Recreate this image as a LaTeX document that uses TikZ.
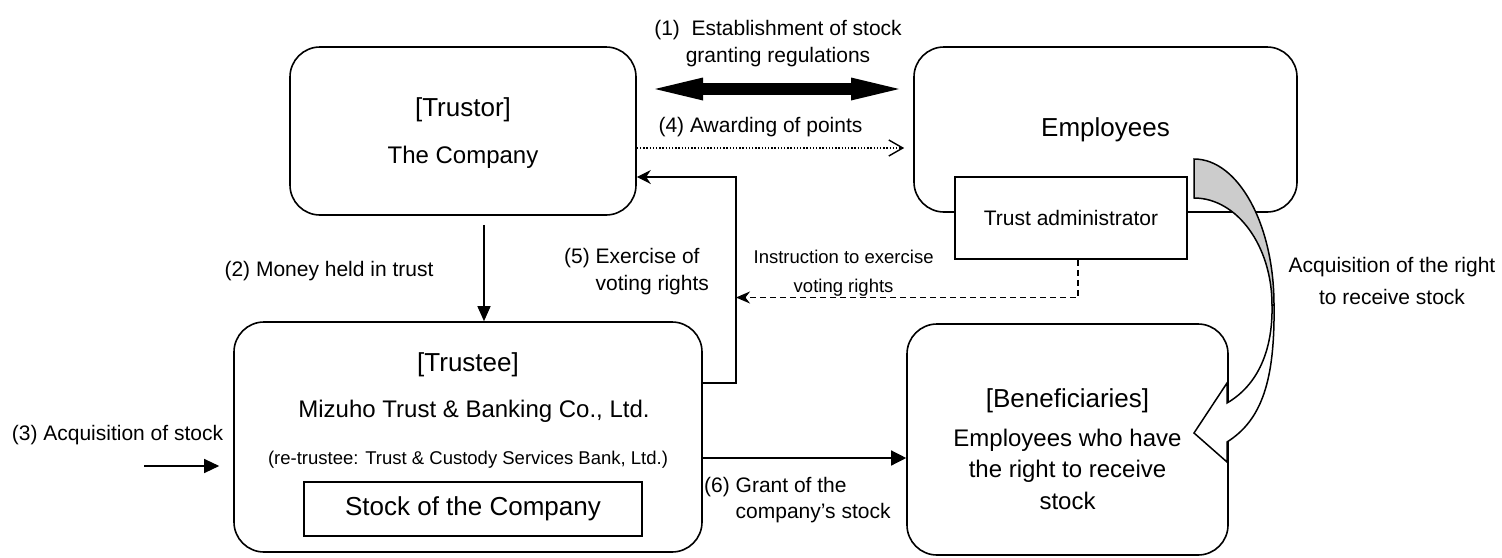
\documentclass[tikz,border=0pt]{standalone}
\usepackage{fontspec}
\setmainfont{Liberation Sans}
\usetikzlibrary{arrows.meta}
\begin{document}
\begin{tikzpicture}[x=1pt,y=-1pt,
  box/.style={draw, line width=1.6pt, rounded corners=30pt, inner sep=0pt},
  sqbox/.style={draw, line width=1.6pt, fill=white, inner sep=0pt},
  conn/.style={line width=1.3pt},
  blk/.style={line width=1.5pt, line join=miter},
  lbl/.style={inner sep=0pt, anchor=base},
  lblw/.style={inner sep=0pt, anchor=base west, align=left},
  fa/.style={font=\fontsize{26}{31}\selectfont},
  fb/.style={font=\fontsize{24}{31.5}\selectfont},
  fc/.style={font=\fontsize{21}{27}\selectfont},
  fd/.style={font=\fontsize{18.5}{29}\selectfont},
  tri/.style={-{Triangle[length=15pt,width=14pt]}},
  stl/.style={-{Stealth[length=14pt,width=14pt]}}
]
\useasboundingbox (0,0) rectangle (1502,557);

% boxes
\node[box, minimum width=346pt, minimum height=168pt] (trustor) at (463,131) {};
\node[box, minimum width=383pt, minimum height=165pt, fa] (employees) at (1105.5,129.5) {Employees};
\node[sqbox, minimum width=232pt, minimum height=82pt, fc] (admin) at (1071,218) {Trust administrator};
\node[box, minimum width=468pt, minimum height=230pt] (trustee) at (468,437) {};
\node[sqbox, minimum width=338pt, minimum height=54pt, fa] (stock) at (473,509) {Stock of the Company};
\node[box, minimum width=321pt, minimum height=231pt] (benef) at (1067.5,439.5) {};

% box texts
\node[lbl, fa] (tTrustor) at (463,116) {[Trustor]};
\node[lbl, fb] (tCompany) at (463,163) {The Company};
\node[lbl, fa] (tTrustee) at (468,371) {[Trustee]};
\node[lbl, fb] (tMizuho) at (474,417) {Mizuho Trust \& Banking Co., Ltd.};
\node[lbl, fd] (tRe) at (468,464) {(re-trustee: Trust \& Custody Services Bank, Ltd.)};
\node[lbl, fa] (tBenef) at (1067.5,407) {[Beneficiaries]};
\node[lbl, fb, align=center] (tBenef2) at (1067.5,509) {Employees who have\\the right to receive\\stock};

% (1) double arrow
\coordinate (d1) at (655,89);
\coordinate (d2) at (899,89);
\draw[line width=12pt, {Triangle[length=48pt,width=23pt,line width=0pt]}-{Triangle[length=48pt,width=23pt,line width=0pt]}] (d1) -- (d2);

% (4) dotted
\draw[line width=1.4pt, dash pattern=on 1.4pt off 1.8pt, -{Straight Barb[length=14pt,width=16pt]}, shorten >=9pt]
  (trustor.east |- 0,148) -- (employees.west |- 0,148);

% (2)
\draw[conn, -{Triangle[length=15pt,width=13pt]}] ([xshift=21pt,yshift=-9pt]trustor.south) -- ([xshift=16pt]trustee.north);

% (3)
\coordinate (c3) at (144,466);
\draw[conn, tri, shorten >=14pt] (c3) -- (c3 -| trustee.west);

% (5)
\coordinate (k5) at (736,177);
\draw[conn, stl] (trustee.east |- 0,383) -| (k5) -- (k5 -| trustor.east);

% instruction (dashed)
\draw[conn, dash pattern=on 6pt off 4pt, -{Stealth[length=14pt,width=12pt]}] ([xshift=7pt]admin.south) |- (k5 |- 0,297.5);

% (6)
\draw[conn, -{Triangle[length=15pt,width=15pt]}] (trustee.east |- 0,458) -- (benef.west |- 0,458);

% curved block arrow
\draw[blk, fill=black!20] (1194,159) .. controls (1238,159) and (1274,224) .. (1274,305)
  -- (1272,305) .. controls (1272,246) and (1237,198) .. (1194,198) -- cycle;
\draw[blk, fill=white] (1274,305) .. controls (1275,380) and (1262,420) .. (1227,442)
  -- (1227,462) -- (1194,433) -- (1227,383) -- (1227,403)
  .. controls (1258,385) and (1273,350) .. (1272,305) -- cycle;

% labels
\node[lbl, fc, align=center] (l1) at (778,62) {(1)~ Establishment of stock\\granting regulations};
\node[lbl, fc] (l4) at (760.5,132) {(4) Awarding of points};
\node[lbl, fc] (l2) at (329,276) {(2) Money held in trust};
\node[lbl, fc] (l3) at (117.5,440) {(3) Acquisition of stock};
\node[lblw, font=\fontsize{21}{27.5}\selectfont] (l5) at (564,290.5) {(5) Exercise of\\\hphantom{(5) }voting rights};
\node[lbl, fd, align=center] (lInstr) at (843.6,292.3) {Instruction to exercise\\voting rights};
\node[lblw, font=\fontsize{21}{26}\selectfont] (l6) at (704,518) {(6) Grant of the\\\hphantom{(6) }company’s stock};
\node[lbl, align=center, font=\fontsize{21}{32}\selectfont] (lAcq) at (1392,304) {Acquisition of the right\\to receive stock};
\end{tikzpicture}
\end{document}
